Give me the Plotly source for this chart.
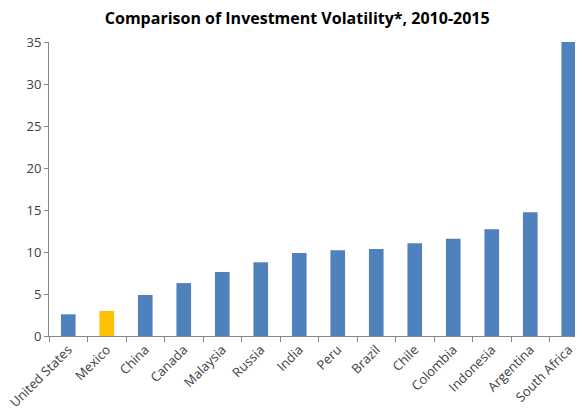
import plotly.graph_objects as go

countries = ["United States", "Mexico", "China", "Canada", "Malaysia", "Russia", "India",
             "Peru", "Brazil", "Chile", "Colombia", "Indonesia", "Argentina", "South Africa"]
volatility = [2.58, 2.98, 4.88, 6.3, 7.62, 8.77, 9.88, 10.2, 10.36, 11.03, 11.59, 12.7, 14.72, 35.2]
highlight = "Mexico"
y_ticks = [0, 5, 10, 15, 20, 25, 30, 35]

colors = ["#FFC000" if c == highlight else "#4F81BD" for c in countries]

fig = go.Figure(go.Bar(x=countries, y=volatility, marker=dict(color=colors, line=dict(width=0)),
                       width=0.38, cliponaxis=True))

axis_font = dict(family="Open Sans, Liberation Sans, sans-serif", size=13, color="#404040")
fig.update_layout(
    width=575, height=407,
    margin=dict(l=41, r=0, t=34, b=79, autoexpand=False),
    plot_bgcolor="white", paper_bgcolor="white",
    showlegend=False,
    title=dict(text="<b>Comparison of Investment Volatility*, 2010-2015</b>",
               x=0.503, xanchor="center", y=0.974, yanchor="middle",
               font=dict(family="Open Sans, Liberation Sans, sans-serif", size=16, color="#000000")),
    xaxis=dict(type="category", range=[-0.5, 13.37], tickangle=-45, tickfont=axis_font,
               automargin=False,
               showline=True, linecolor="#868686", linewidth=1,
               ticks="outside", tickson="boundaries", ticklen=5, tickcolor="#868686",
               showgrid=False),
    yaxis=dict(range=[0, 35], tickvals=y_ticks, tickfont=axis_font, automargin=False,
               showline=True, linecolor="#868686", linewidth=1,
               ticks="outside", ticklen=4, tickcolor="#868686",
               showgrid=False, zeroline=False),
    bargap=0.62,
)

fig.write_html("out.html")
